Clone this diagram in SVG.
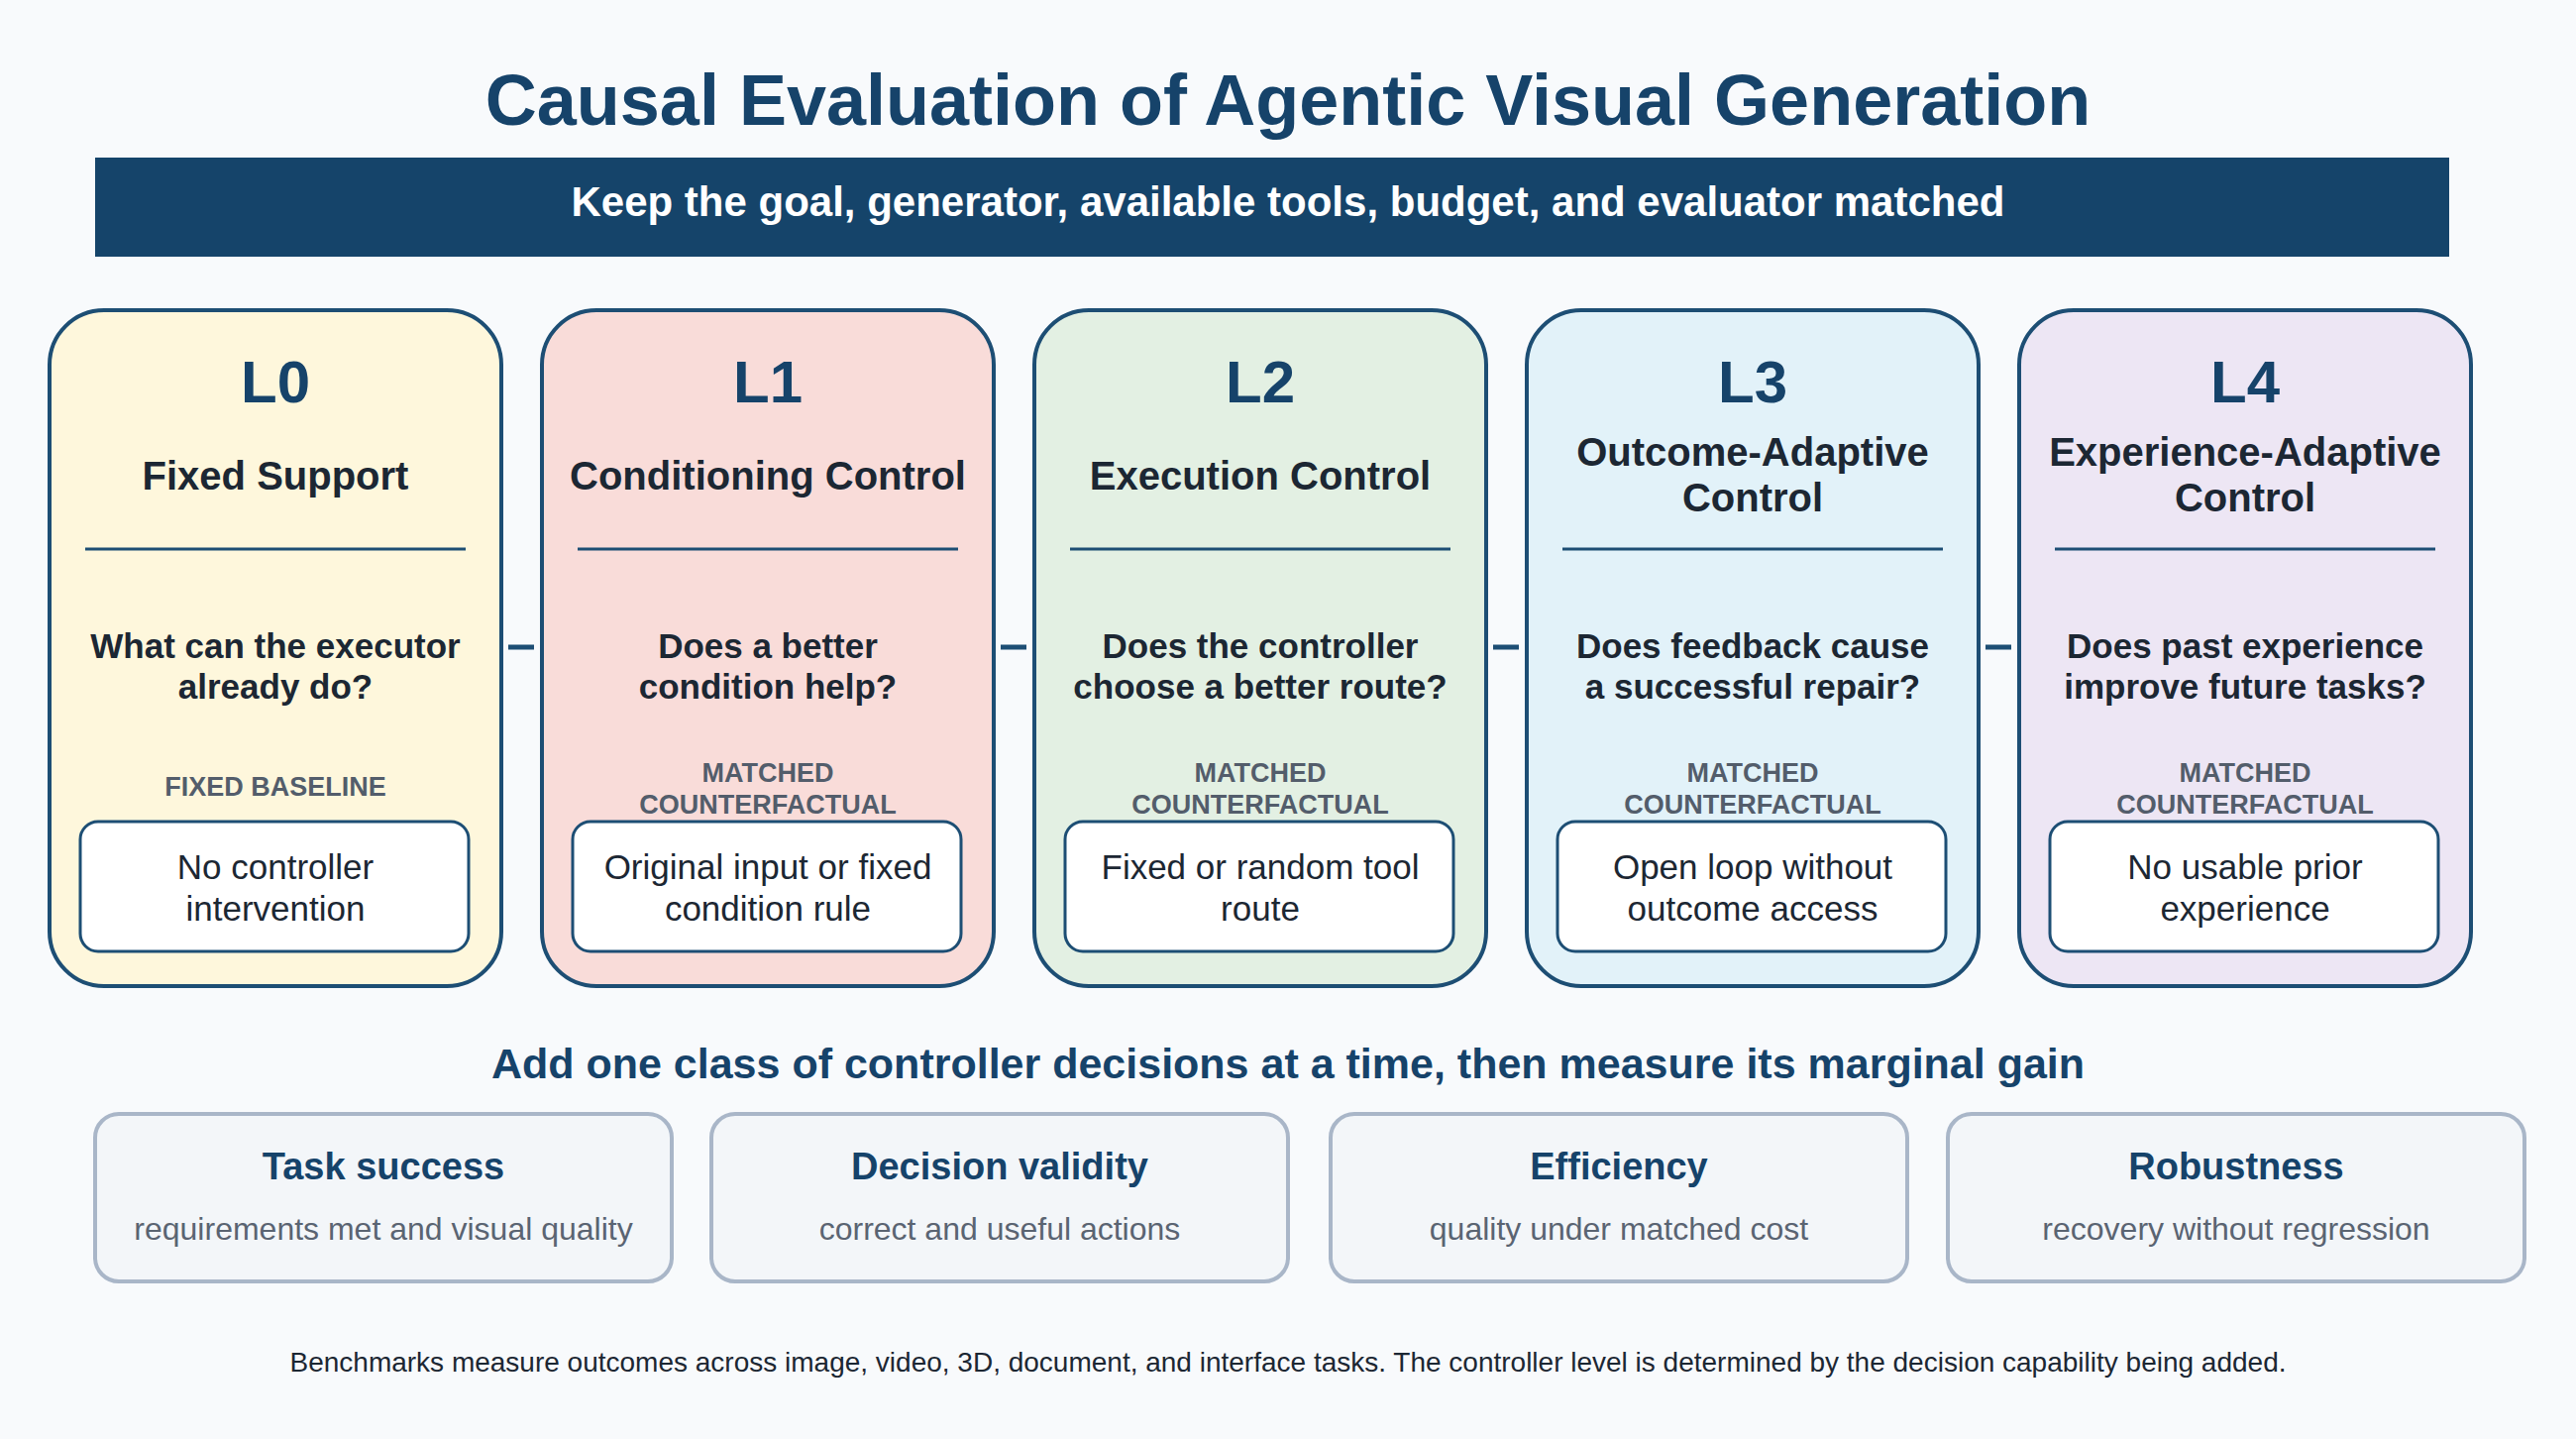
<svg xmlns="http://www.w3.org/2000/svg" width="2600" height="1452" viewBox="0 0 2600 1452">
<style>
text{font-family:"Liberation Sans",Arial,sans-serif;text-anchor:middle}
.card{stroke:#1d4e74;stroke-width:4}
.lv{font-size:60px;font-weight:bold;fill:#16436a}
.nm{font-size:40px;font-weight:bold;fill:#1c2733}
.q{font-size:35px;font-weight:bold;fill:#1c2733}
.tag{font-size:27px;font-weight:bold;fill:#535d6b}
.inner{fill:#fff;stroke:#1d4e74;stroke-width:3}
.it{font-size:35px;fill:#1c2733}
.div{stroke:#1d4e74;stroke-width:3}
.con{stroke:#1d4e74;stroke-width:5}
.mb{fill:#f3f6f9;stroke:#a9b6c8;stroke-width:4}
.mt{font-size:38px;font-weight:bold;fill:#16436a}
.ms{font-size:32px;fill:#5a6472}
</style>
<rect width="2600" height="1452" fill="#f8fafc"/>
<text x="1300" y="126" style="font-size:72px;font-weight:bold;fill:#16436a">Causal Evaluation of Agentic Visual Generation</text>
<rect x="96" y="159" width="2376" height="100" fill="#15446a"/>
<text x="1300" y="218" style="font-size:42px;font-weight:bold;fill:#fff">Keep the goal, generator, available tools, budget, and evaluator matched</text>
<g id="connectors">
<line class="con" x1="513" y1="653" x2="539" y2="653"/>
<line class="con" x1="1010" y1="653" x2="1036" y2="653"/>
<line class="con" x1="1507" y1="653" x2="1533" y2="653"/>
<line class="con" x1="2004" y1="653" x2="2030" y2="653"/>
</g>
<g id="L0">
<rect class="card" x="50" y="313" width="456" height="682" rx="55" fill="#fef7dc"/>
<text class="lv" x="278" y="406">L0</text>
<text class="nm" x="278" y="494">Fixed Support</text>
<line class="div" x1="86" y1="554" x2="470" y2="554"/>
<text class="q" x="278" y="664">What can the executor</text>
<text class="q" x="278" y="705">already do?</text>
<text class="tag" x="278" y="803">FIXED BASELINE</text>
<rect class="inner" x="81" y="829" width="392" height="131" rx="18"/>
<text class="it" x="278" y="887">No controller</text>
<text class="it" x="278" y="929">intervention</text>
</g>
<g id="L1">
<rect class="card" x="547" y="313" width="456" height="682" rx="55" fill="#f9dcd9"/>
<text class="lv" x="775" y="406">L1</text>
<text class="nm" x="775" y="494">Conditioning Control</text>
<line class="div" x1="583" y1="554" x2="967" y2="554"/>
<text class="q" x="775" y="664">Does a better</text>
<text class="q" x="775" y="705">condition help?</text>
<text class="tag" x="775" y="789">MATCHED</text>
<text class="tag" x="775" y="821">COUNTERFACTUAL</text>
<rect class="inner" x="578" y="829" width="392" height="131" rx="18"/>
<text class="it" x="775" y="887">Original input or fixed</text>
<text class="it" x="775" y="929">condition rule</text>
</g>
<g id="L2">
<rect class="card" x="1044" y="313" width="456" height="682" rx="55" fill="#e3f0e3"/>
<text class="lv" x="1272" y="406">L2</text>
<text class="nm" x="1272" y="494">Execution Control</text>
<line class="div" x1="1080" y1="554" x2="1464" y2="554"/>
<text class="q" x="1272" y="664">Does the controller</text>
<text class="q" x="1272" y="705">choose a better route?</text>
<text class="tag" x="1272" y="789">MATCHED</text>
<text class="tag" x="1272" y="821">COUNTERFACTUAL</text>
<rect class="inner" x="1075" y="829" width="392" height="131" rx="18"/>
<text class="it" x="1272" y="887">Fixed or random tool</text>
<text class="it" x="1272" y="929">route</text>
</g>
<g id="L3">
<rect class="card" x="1541" y="313" width="456" height="682" rx="55" fill="#e2f2f9"/>
<text class="lv" x="1769" y="406">L3</text>
<text class="nm" x="1769" y="470">Outcome-Adaptive</text>
<text class="nm" x="1769" y="516">Control</text>
<line class="div" x1="1577" y1="554" x2="1961" y2="554"/>
<text class="q" x="1769" y="664">Does feedback cause</text>
<text class="q" x="1769" y="705">a successful repair?</text>
<text class="tag" x="1769" y="789">MATCHED</text>
<text class="tag" x="1769" y="821">COUNTERFACTUAL</text>
<rect class="inner" x="1572" y="829" width="392" height="131" rx="18"/>
<text class="it" x="1769" y="887">Open loop without</text>
<text class="it" x="1769" y="929">outcome access</text>
</g>
<g id="L4">
<rect class="card" x="2038" y="313" width="456" height="682" rx="55" fill="#ede6f4"/>
<text class="lv" x="2266" y="406">L4</text>
<text class="nm" x="2266" y="470">Experience-Adaptive</text>
<text class="nm" x="2266" y="516">Control</text>
<line class="div" x1="2074" y1="554" x2="2458" y2="554"/>
<text class="q" x="2266" y="664">Does past experience</text>
<text class="q" x="2266" y="705">improve future tasks?</text>
<text class="tag" x="2266" y="789">MATCHED</text>
<text class="tag" x="2266" y="821">COUNTERFACTUAL</text>
<rect class="inner" x="2069" y="829" width="392" height="131" rx="18"/>
<text class="it" x="2266" y="887">No usable prior</text>
<text class="it" x="2266" y="929">experience</text>
</g>
<text x="1300" y="1088" style="font-size:43px;font-weight:bold;fill:#16436a">Add one class of controller decisions at a time, then measure its marginal gain</text>
<g id="m1"><rect class="mb" x="96" y="1124" width="582" height="169" rx="24"/><text class="mt" x="387" y="1190">Task success</text><text class="ms" x="387" y="1251">requirements met and visual quality</text></g>
<g id="m2"><rect class="mb" x="718" y="1124" width="582" height="169" rx="24"/><text class="mt" x="1009" y="1190">Decision validity</text><text class="ms" x="1009" y="1251">correct and useful actions</text></g>
<g id="m3"><rect class="mb" x="1343" y="1124" width="582" height="169" rx="24"/><text class="mt" x="1634" y="1190">Efficiency</text><text class="ms" x="1634" y="1251">quality under matched cost</text></g>
<g id="m4"><rect class="mb" x="1966" y="1124" width="582" height="169" rx="24"/><text class="mt" x="2257" y="1190">Robustness</text><text class="ms" x="2257" y="1251">recovery without regression</text></g>
<text x="1300" y="1384" style="font-size:28px;fill:#1c2733">Benchmarks measure outcomes across image, video, 3D, document, and interface tasks. The controller level is determined by the decision capability being added.</text>
</svg>
